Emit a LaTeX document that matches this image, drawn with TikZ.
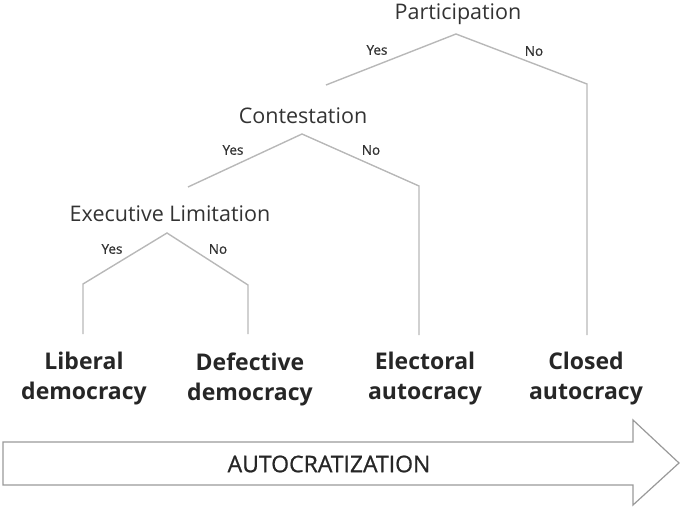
\documentclass[tikz,border=0pt]{standalone}
\usepackage{fontspec}
\setmainfont{Open Sans}
\newfontfamily\medfont[FakeBold=0.8]{Open Sans}
\definecolor{branchgray}{HTML}{B8B8B8}
\definecolor{textgray}{HTML}{333333}
\begin{document}
\begin{tikzpicture}[x=1pt,y=-1pt,
		question/.style={text=textgray,font=\fontsize{21.5}{24}\selectfont},
		answer/.style={text=textgray,font=\medfont\fontsize{13.5}{16}\selectfont},
		regime/.style={text=black!85,font=\bfseries\fontsize{23}{30}\selectfont,align=center},
		branch/.style={draw=branchgray,line width=1.4pt}]
	\useasboundingbox (0,0) rectangle (681,508);
	% questions
	\node[question] (part) at (458,14) {Participation};
	\node[question] (cont) at (303,116) {Contestation};
	\node[question] (exec) at (170,214) {Executive Limitation};
	% branch points
	\coordinate (pa) at (456,34);
	\coordinate (py) at (326,85);
	\coordinate (pn) at (587,84);
	\coordinate (pe) at (587,335);
	\coordinate (ca) at (302,134);
	\coordinate (cy) at (188,187);
	\coordinate (cn) at (419,186);
	\coordinate (ce) at (419,335);
	\coordinate (ea) at (167,233);
	\coordinate (ey) at (83,284);
	\coordinate (eye) at (83,334);
	\coordinate (en) at (248,285);
	\coordinate (ene) at (248,334);
	\draw[branch] (py) -- (pa) -- (pn) -- (pe);
	\draw[branch] (cy) -- (ca) -- (cn) -- (ce);
	\draw[branch] (eye) -- (ey) -- (ea) -- (en) -- (ene);
	% answers
	\node[answer] (pyes) at (377,50) {Yes};
	\node[answer] (pno) at (534,51) {No};
	\node[answer] (cyes) at (233,150) {Yes};
	\node[answer] (cno) at (371,150) {No};
	\node[answer] (eyes) at (112,249) {Yes};
	\node[answer] (eno) at (218,249) {No};
	% regimes
	\node[regime] (lib) at (84,379) {Liberal\\democracy};
	\node[regime] (def) at (250,379) {Defective\\democracy};
	\node[regime] (elec) at (425,379) {Electoral\\autocracy};
	\node[regime] (clos) at (586,379) {Closed\\autocracy};
	% arrow
	\draw[draw=gray!80,line width=1.2pt,line join=miter] (3,442) -- (633,442) -- (633,420) -- (679,463)
		-- (633,505) -- (633,485) -- (3,485) -- cycle;
	\node[text=black!85,font=\medfont\fontsize{23}{26}\selectfont] (auto) at (329,464) {AUTOCRATIZATION};
\end{tikzpicture}
\end{document}
